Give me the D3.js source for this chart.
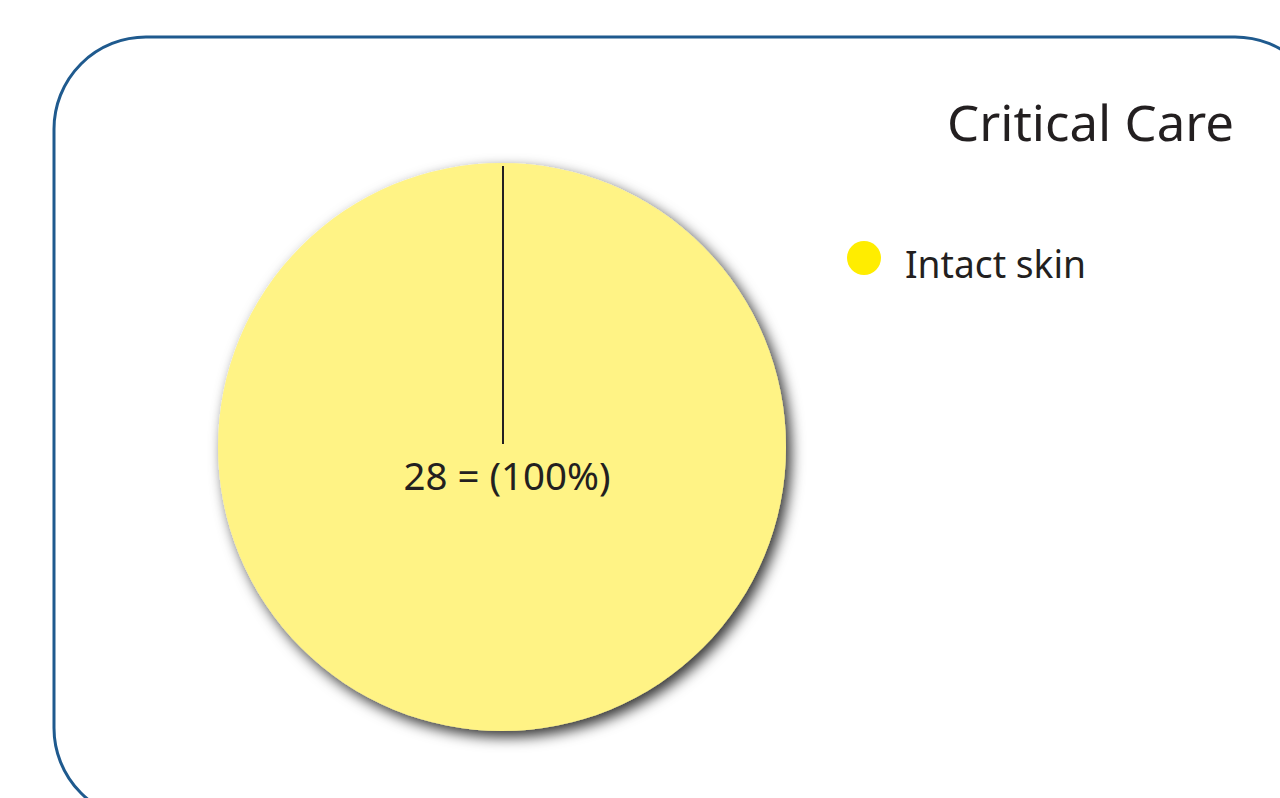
<!DOCTYPE html>
<html>
<head>
<meta charset="utf-8">
<script src="https://cdn.jsdelivr.net/npm/d3@7"></script>
<style>
  html, body { margin: 0; padding: 0; background: #fff; overflow: hidden; }
  text { font-family: "Noto Sans", "Open Sans", sans-serif; fill: #231f20; }
</style>
</head>
<body>
<div id="chart"></div>
<script>
// data
const title = "Critical Care";
const categories = ["Intact skin"];
const values = [28];
const sliceColors = ["#fff385"];
const legendColors = ["#ffed00"];

const width = 1280, height = 798;
const svg = d3.select("#chart").append("svg")
    .attr("width", width)
    .attr("height", height);

// drop shadow for the pie
const defs = svg.append("defs");
const filter = defs.append("filter")
    .attr("id", "shadow")
    .attr("x", "-20%").attr("y", "-20%")
    .attr("width", "140%").attr("height", "140%");
filter.append("feDropShadow")
    .attr("dx", 5).attr("dy", 6)
    .attr("stdDeviation", 7)
    .attr("flood-color", "#000")
    .attr("flood-opacity", 0.8);

// rounded frame (runs off the page at right and bottom)
svg.append("rect")
    .attr("x", 54).attr("y", 37)
    .attr("width", 1273).attr("height", 783)
    .attr("rx", 92).attr("ry", 92)
    .attr("fill", "none")
    .attr("stroke", "#1f5a8e")
    .attr("stroke-width", 3);

// title
svg.append("text")
    .attr("x", 1234).attr("y", 141)
    .attr("text-anchor", "end")
    .attr("font-size", 49)
    .attr("textLength", 287)
    .attr("lengthAdjust", "spacingAndGlyphs")
    .text(title);

// pie
const cx = 502, cy = 447, radius = 284;
const total = d3.sum(values);
const pie = d3.pie().sort(null)(values);
const arc = d3.arc().innerRadius(0).outerRadius(radius);

const g = svg.append("g").attr("transform", `translate(${cx},${cy})`);

g.selectAll("path.slice")
    .data(pie)
    .enter()
    .append("path")
    .attr("class", "slice")
    .attr("d", arc)
    .attr("fill", (d, i) => sliceColors[i])
    .attr("filter", "url(#shadow)");

// slice boundary lines
g.selectAll("line.edge")
    .data(pie)
    .enter()
    .append("line")
    .attr("class", "edge")
    .attr("x1", d => Math.sin(d.startAngle) * 3 + 1)
    .attr("y1", d => -Math.cos(d.startAngle) * 3)
    .attr("x2", d => Math.sin(d.startAngle) * (radius - 3) + 1)
    .attr("y2", d => -Math.cos(d.startAngle) * (radius - 3))
    .attr("stroke", "#231f20")
    .attr("stroke-width", 2);

// value labels
g.selectAll("text.label")
    .data(pie)
    .enter()
    .append("text")
    .attr("class", "label")
    .attr("x", 5)
    .attr("y", 43)
    .attr("text-anchor", "middle")
    .attr("font-size", 39)
    .attr("textLength", 207)
    .attr("lengthAdjust", "spacingAndGlyphs")
    .text(d => `${d.data} = (${Math.round(d.data / total * 100)}%)`);

// legend
const legend = svg.selectAll("g.legend")
    .data(categories)
    .enter()
    .append("g")
    .attr("class", "legend")
    .attr("transform", (d, i) => `translate(864,${258 + i * 60})`);

legend.append("circle")
    .attr("r", 17)
    .attr("fill", (d, i) => legendColors[i]);

legend.append("text")
    .attr("x", 41)
    .attr("y", 20)
    .attr("font-size", 38)
    .attr("textLength", 181)
    .attr("lengthAdjust", "spacingAndGlyphs")
    .text(d => d);
</script>
</body>
</html>
